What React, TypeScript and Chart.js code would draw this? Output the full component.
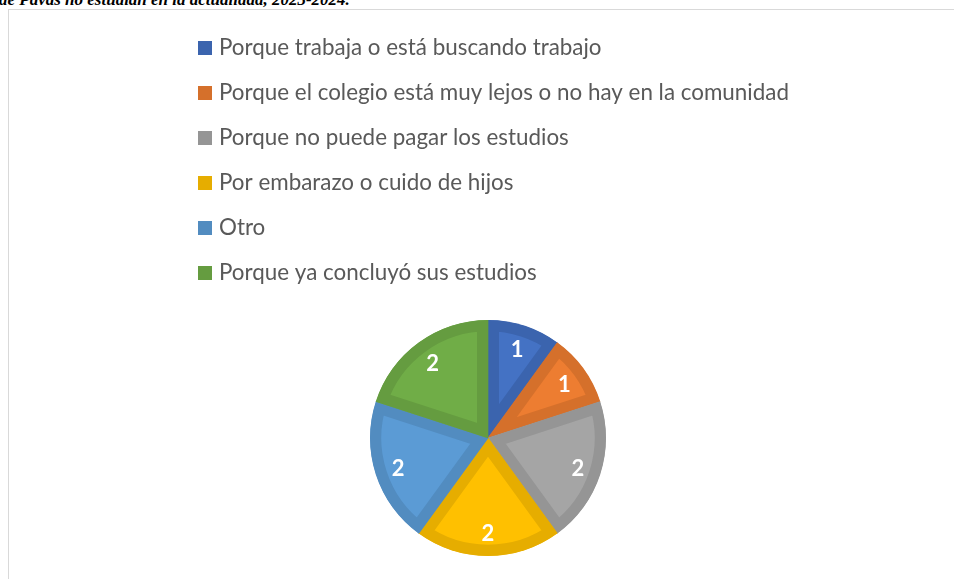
import React, { useEffect, useRef } from "react";
import { Chart, registerables } from "chart.js";

Chart.register(...registerables);

const titleText = "de Pavas no estudian en la actualidad, 2023-2024.";

const categories = [
  "Porque trabaja o está buscando trabajo",
  "Porque el colegio está muy lejos o no hay en la comunidad",
  "Porque no puede pagar los estudios",
  "Por embarazo o cuido de hijos",
  "Otro",
  "Porque ya concluyó sus estudios",
];

const values = [1, 1, 2, 2, 2, 2];

const fillColors = ["#4472C4", "#ED7D31", "#A5A5A5", "#FFC000", "#5B9BD5", "#70AD47"];
const edgeColors = ["#3B64AE", "#D5702B", "#959595", "#E6AD00", "#528CC0", "#659C40"];

const legendPlugin = {
  id: "stackedLegend",
  afterDraw(chart: any, _args: any, opts: any) {
    const ctx = chart.ctx;
    const labels: string[] = chart.data.labels;
    const ds = chart.data.datasets[0];
    ctx.save();
    ctx.font = opts.font;
    ctx.textBaseline = "alphabetic";
    ctx.textAlign = "left";
    labels.forEach((lab, i) => {
      const cy = opts.top + i * opts.spacing;
      ctx.fillStyle = ds.borderColor[i];
      ctx.fillRect(opts.left, cy - opts.box / 2, opts.box, opts.box);
      ctx.fillStyle = opts.color;
      ctx.fillText(lab, opts.left + opts.box + opts.gap, cy + opts.baselineShift);
    });
    ctx.restore();
  },
};

const valueLabelPlugin = {
  id: "valueLabels",
  afterDatasetsDraw(chart: any, _args: any, opts: any) {
    const ctx = chart.ctx;
    const meta = chart.getDatasetMeta(0);
    const data = chart.data.datasets[0].data;
    ctx.save();
    ctx.font = opts.font;
    ctx.fillStyle = opts.color;
    ctx.textAlign = "center";
    ctx.textBaseline = "middle";
    meta.data.forEach((arc: any, i: number) => {
      const p = arc.getProps(["x", "y", "startAngle", "endAngle", "outerRadius"], true);
      const mid = (p.startAngle + p.endAngle) / 2;
      const r = p.outerRadius * opts.radiusFactor;
      ctx.fillText(String(data[i]), p.x + Math.cos(mid) * r, p.y + Math.sin(mid) * r + 2);
    });
    ctx.restore();
  },
};

export default function App() {
  const canvasRef = useRef<HTMLCanvasElement | null>(null);

  useEffect(() => {
    if (!canvasRef.current) return;
    const chart = new Chart(canvasRef.current, {
      type: "pie",
      data: {
        labels: categories,
        datasets: [
          {
            data: values,
            backgroundColor: fillColors,
            borderColor: edgeColors,
            borderWidth: 11,
            borderAlign: "inner",
            borderJoinStyle: "miter",
            hoverOffset: 0,
            offset: 0,
          } as any,
        ],
      },
      options: {
        responsive: false,
        animation: false,
        events: [],
        layout: { padding: { top: 310, bottom: 23, left: 13, right: 0 } },
        plugins: {
          legend: { display: false },
          tooltip: { enabled: false },
          title: { display: false },
          stackedLegend: {
            left: 189,
            top: 38,
            spacing: 45,
            box: 14,
            gap: 7,
            baselineShift: 7,
            font: '22.4px Lato, "Open Sans", sans-serif',
            color: "#595959",
          },
          valueLabels: {
            font: 'bold 22px Lato, "Open Sans", sans-serif',
            color: "#FFFFFF",
            radiusFactor: 0.8,
          },
        } as any,
      },
      plugins: [legendPlugin, valueLabelPlugin],
    });
    return () => chart.destroy();
  }, []);

  return (
    <div
      style={{
        position: "fixed",
        left: 0,
        top: 0,
        width: 954,
        height: 579,
        overflow: "hidden",
        background: "#FFFFFF",
      }}
    >
      <div
        style={{
          position: "absolute",
          left: -1,
          top: -9,
          font: 'italic bold 17px "Liberation Serif", "Times New Roman", serif',
          lineHeight: "17px",
          whiteSpace: "nowrap",
          color: "#000",
        }}
      >
        {titleText}
      </div>
      <div
        style={{
          position: "absolute",
          left: 8,
          top: 9,
          width: 960,
          height: 580,
          border: "1px solid #D9D9D9",
          background: "#FFFFFF",
        }}
      >
        <canvas ref={canvasRef} width={945} height={569} style={{ display: "block" }} />
      </div>
    </div>
  );
}
